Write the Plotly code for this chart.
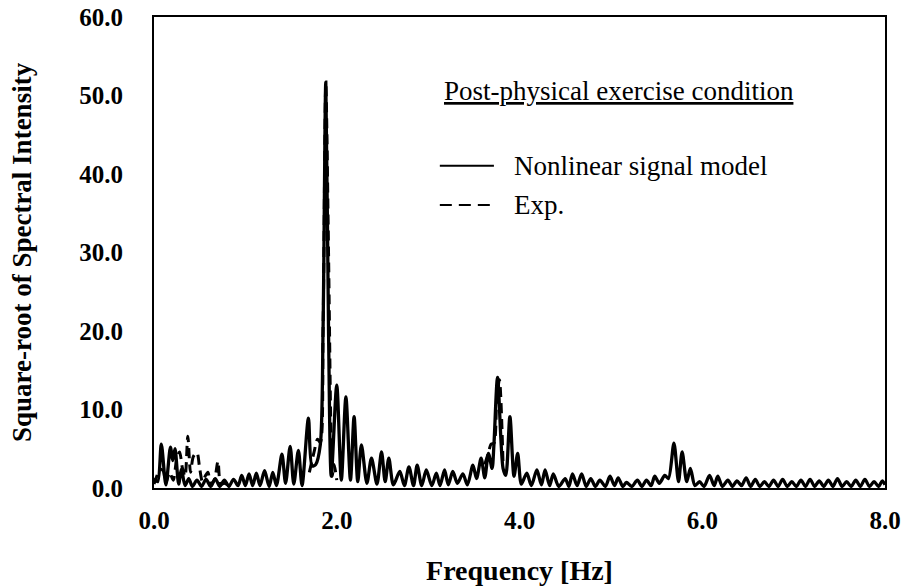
import plotly.graph_objects as go

# Nonlinear signal model (solid) - peaks and troughs
model_freq = [0.00, 0.04, 0.08, 0.13, 0.18, 0.205, 0.23, 0.27, 0.30, 0.34, 0.38, 0.42, 0.47, 0.52,
              0.57, 0.62, 0.67, 0.72, 0.77, 0.82, 0.87, 0.92, 0.96, 1.00, 1.04, 1.08, 1.12, 1.16,
              1.21, 1.26, 1.30, 1.34, 1.40, 1.44, 1.49, 1.53, 1.58, 1.62, 1.69, 1.73, 1.77, 1.82,
              1.85, 1.88, 1.91, 1.94, 2.00, 2.05, 2.10, 2.15, 2.19, 2.23, 2.27, 2.33, 2.38, 2.44,
              2.49, 2.53, 2.57, 2.62, 2.69, 2.74, 2.79, 2.84, 2.88, 2.93, 2.98, 3.04, 3.09, 3.13,
              3.18, 3.22, 3.27, 3.32, 3.38, 3.43, 3.49, 3.53, 3.58, 3.62, 3.66, 3.70, 3.72, 3.76,
              3.82, 3.85, 3.895, 3.94, 3.98, 4.02, 4.08, 4.13, 4.19, 4.24, 4.28, 4.33, 4.37, 4.43,
              4.50, 4.54, 4.58, 4.63, 4.68, 4.73, 4.78, 4.83, 4.88, 4.94, 4.99, 5.04, 5.08, 5.13,
              5.17, 5.23, 5.29, 5.34, 5.39, 5.44, 5.48, 5.53, 5.59, 5.63, 5.69, 5.74, 5.78, 5.83,
              5.87, 5.92, 5.97, 6.02, 6.08, 6.13, 6.17, 6.22, 6.28, 6.33, 6.38, 6.43, 6.48, 6.53,
              6.58, 6.63, 6.68, 6.73, 6.78, 6.83, 6.88, 6.93, 6.98, 7.03, 7.08, 7.13, 7.18, 7.23,
              7.28, 7.33, 7.38, 7.43, 7.48, 7.53, 7.58, 7.63, 7.68, 7.73, 7.78, 7.83, 7.88, 7.93,
              7.97, 8.00]
model_amp = [1.2, 0.8, 5.6, 0.4, 5.2, 3.5, 5.0, 0.5, 2.4, 0.3, 1.2, 0.2, 1.0, 0.2,
             1.1, 0.2, 1.2, 0.2, 1.0, 0.2, 1.1, 0.3, 1.6, 0.3, 1.8, 0.3, 1.9, 0.3,
             2.2, 0.2, 2.0, 0.3, 4.3, 0.6, 5.3, 0.5, 4.8, 0.3, 8.9, 2.8, 3.0, 5.5,
             20.0, 51.7, 20.0, 1.5, 13.1, 1.0, 11.6, 1.0, 9.1, 0.8, 5.5, 0.6, 3.8, 0.5,
             4.6, 0.8, 3.8, 0.4, 2.1, 0.3, 2.7, 0.3, 2.9, 0.3, 2.3, 0.3, 1.9, 0.3,
             2.3, 0.4, 2.1, 0.6, 1.8, 0.4, 2.9, 1.2, 3.8, 1.3, 4.4, 2.5, 5.5, 14.1,
             2.5, 1.6, 9.1, 1.5, 4.4, 0.5, 1.9, 0.3, 2.3, 0.4, 2.3, 0.3, 1.8, 0.2,
             1.2, 0.2, 1.8, 0.3, 1.8, 0.2, 1.2, 0.2, 1.0, 0.2, 1.5, 0.3, 1.3, 0.2,
             0.7, 0.2, 1.0, 0.2, 1.0, 0.3, 1.5, 0.6, 1.6, 1.2, 5.7, 0.8, 4.6, 0.8,
             2.5, 0.3, 0.8, 0.2, 1.6, 0.3, 1.5, 0.2, 1.0, 0.2, 0.9, 0.3, 1.3, 0.2,
             1.1, 0.2, 0.8, 0.2, 1.0, 0.2, 1.1, 0.2, 0.8, 0.2, 1.0, 0.2, 1.1, 0.2,
             0.9, 0.2, 1.0, 0.2, 1.2, 0.2, 0.8, 0.2, 1.0, 0.2, 1.1, 0.2, 0.8, 0.2,
             0.9, 0.4]

# Experimental spectrum (dashed) - only the parts not hidden under the model line
exp_freq = [0.00, 0.03, 0.06, 0.10, 0.13, 0.17, 0.21, 0.25, 0.28, 0.31, 0.34, 0.37, 0.40, 0.43,
            0.47, 0.50, 0.53, 0.56, 0.59, 0.62, 0.66, 0.70, 0.73, 0.77, 0.82,
            None,
            1.70, 1.75, 1.79, 1.82, 1.85, 1.88, 1.91, 1.935, 1.95, 1.97, 2.00,
            None,
            3.62, 3.66, 3.69, 3.72, 3.75, 3.78, 3.82]
exp_amp = [0.5, 1.5, 2.4, 2.2, 0.6, 2.0, 1.0, 3.8, 4.6, 2.6, 1.5, 6.6, 2.0, 4.0,
           4.5, 2.5, 0.8, 1.5, 2.0, 0.5, 1.0, 3.4, 0.5, 0.6, 0.3,
           None,
           2.0, 4.5, 6.2, 5.8, 20.0, 51.5, 30.0, 8.0, 1.5, 3.0, 1.0,
           None,
           3.0, 4.5, 5.6, 5.7, 11.0, 13.8, 3.0]

x_ticks = [0.0, 2.0, 4.0, 6.0, 8.0]
y_ticks = [0.0, 10.0, 20.0, 30.0, 40.0, 50.0, 60.0]

SERIF = "Liberation Serif, Times New Roman, serif"

fig = go.Figure()
fig.add_trace(go.Scatter(x=exp_freq, y=exp_amp, mode='lines', name='Exp.',
                         line=dict(color='black', width=3, dash='10px,6px', shape='spline', smoothing=0.8),
                         connectgaps=False, showlegend=False))
fig.add_trace(go.Scatter(x=model_freq, y=model_amp, mode='lines', name='Nonlinear signal model',
                         line=dict(color='black', width=3.3, shape='spline', smoothing=0.8),
                         showlegend=False))

# legend drawn by hand, as in the original figure
fig.add_shape(type='line', xref='paper', yref='paper', x0=0.391, x1=0.465, y0=0.684, y1=0.684,
              line=dict(color='black', width=2))
fig.add_shape(type='line', xref='paper', yref='paper', x0=0.391, x1=0.465, y0=0.601, y1=0.601,
              line=dict(color='black', width=2, dash='12px,7px'))
fig.add_annotation(text='Nonlinear signal model', xref='paper', yref='paper', x=0.490, y=0.684,
                   xanchor='left', yanchor='middle', showarrow=False,
                   font=dict(family=SERIF, size=27, color='black'))
fig.add_annotation(text='Exp.', xref='paper', yref='paper', x=0.490, y=0.601,
                   xanchor='left', yanchor='middle', showarrow=False,
                   font=dict(family=SERIF, size=27, color='black'))
fig.add_annotation(text='<u>Post-physical exercise condition</u>', xref='paper', yref='paper',
                   x=0.394, y=0.843, xanchor='left', yanchor='middle', showarrow=False,
                   font=dict(family=SERIF, size=27, color='black'))

fig.update_xaxes(range=[0, 8], tickvals=x_ticks, ticktext=[f'{v:.1f}' for v in x_ticks],
                 showgrid=False, zeroline=False, showline=True, linecolor='black', linewidth=2,
                 mirror=True, ticks='', ticklabelstandoff=9, automargin=False,
                 tickfont=dict(family=SERIF, size=25, color='black', weight='bold'),
                 title=dict(text='Frequency [Hz]', standoff=40,
                            font=dict(family=SERIF, size=28, color='black', weight='bold')))
fig.update_yaxes(range=[0, 60], tickvals=y_ticks, ticktext=[f'{v:.1f}' for v in y_ticks],
                 showgrid=False, zeroline=False, showline=True, linecolor='black', linewidth=2,
                 mirror=True, ticks='', ticklabelstandoff=24, automargin=False,
                 tickfont=dict(family=SERIF, size=25, color='black', weight='bold'),
                 title=dict(text='Square-root of Spectral Intensity', standoff=40,
                            font=dict(family=SERIF, size=27, color='black', weight='bold')))
fig.update_layout(width=901, height=586, margin=dict(l=154, r=16, t=17, b=98),
                  paper_bgcolor='white', plot_bgcolor='white', showlegend=False)

# drop the default page margin so the figure sits at the window's corner
fig.write_html("out.html", config={'displayModeBar': False},
               post_script="document.body.style.margin='0';")
